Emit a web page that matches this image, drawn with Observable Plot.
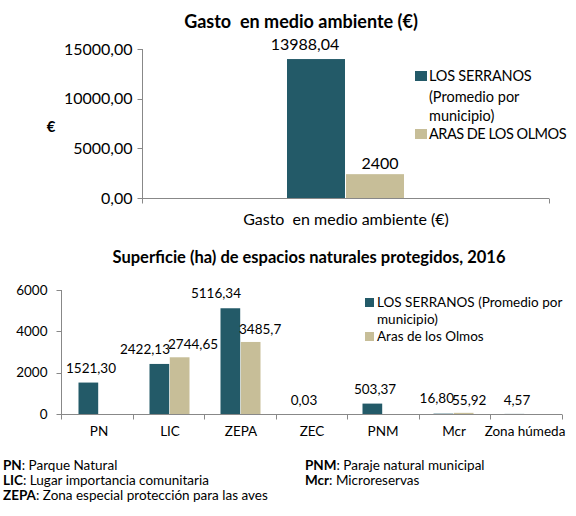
<!DOCTYPE html>
<html>
<head>
<meta charset="utf-8">
<script src="https://cdn.jsdelivr.net/npm/d3@7"></script>
<script src="https://cdn.jsdelivr.net/npm/@observablehq/plot@0.6"></script>
<style>
  html, body { margin: 0; padding: 0; background: #fff; }
  #wrap { position: relative; width: 576px; height: 516px; overflow: hidden;
          font-family: Lato, "Open Sans", sans-serif; color: #000; }
  #wrap svg { position: absolute; left: 0; }
  #wrap svg text { white-space: pre; }
  .t { position: absolute; white-space: pre; line-height: 1; transform: translateY(-50%); }
  .sw { position: absolute; }
  b { font-weight: 700; }
</style>
</head>
<body>
<div id="wrap"></div>
<script>
// ---------- data ----------
const gastoCategories = ["Gasto  en medio ambiente (€)"];
const gastoSerranos = [13988.04];
const gastoAras = [2400];
const gastoTicks = [0, 5000, 10000, 15000];

const espacioCategories = ["PN", "LIC", "ZEPA", "ZEC", "PNM", "Mcr", "Zona húmeda"];
const espacioSerranos = [1521.30, 2422.13, 5116.34, 0.03, 503.37, 16.80, 4.57];
const espacioAras = [null, 2744.65, 3485.7, null, null, 55.92, null];
const espacioTicks = [0, 2000, 4000, 6000];

const gastoLegend = ["LOS SERRANOS", "(Promedio por", "municipio)", "ARAS DE LOS OLMOS"];
const espacioLegend = ["LOS SERRANOS (Promedio por", "municipio)", "Aras de los Olmos"];

const captionLeft = [["PN", ": Parque Natural"], ["LIC", ": Lugar importancia comunitaria"], ["ZEPA", ": Zona especial protección para las aves"]];
const captionRight = [["PNM", ": Paraje natural municipal"], ["Mcr", ": Microreservas"]];

// ---------- styles ----------
const teal = "#235a68", beige = "#c7be98", axisGray = "#888888";
const FONT = "Lato, 'Open Sans', sans-serif";
const fmt2 = v => v.toFixed(2).replace(".", ",");
const fmtRaw = v => String(v).replace(".", ",");

const wrap = document.getElementById("wrap");

function decorate(svg, ticks) {
  const sx = svg.scale("x"), sy = svg.scale("y");
  const [xa, xb] = sx.range;
  const [yb, yt] = sy.range;
  const n = sx.domain.length;
  const g = d3.select(svg).append("g").attr("stroke", axisGray).attr("fill", "none").attr("stroke-width", 1);
  const px = v => Math.round(v) + 0.5;
  g.append("line").attr("x1", px(xa)).attr("x2", px(xa)).attr("y1", yt).attr("y2", px(yb));
  ticks.forEach(t => {
    const y = px(sy.apply(t));
    g.append("line").attr("x1", px(xa) - 5).attr("x2", px(xa)).attr("y1", y).attr("y2", y);
  });
  d3.range(n + 1).forEach(k => {
    const x = px(xa + k * (xb - xa) / n);
    g.append("line").attr("x1", x).attr("x2", x).attr("y1", px(yb)).attr("y2", px(yb) + 5);
  });
}

function addText(txt, x, y, size, bold, anchor, spacing) {
  const d = document.createElement("div");
  d.className = "t";
  d.textContent = txt;
  d.style.left = x + "px";
  d.style.top = y + "px";
  d.style.fontSize = size + "px";
  if (bold) d.style.fontWeight = "700";
  if (spacing) d.style.letterSpacing = spacing + "px";
  if (anchor === "middle") d.style.transform = "translate(-50%, -50%)";
  wrap.appendChild(d);
  return d;
}
function addSwatch(color, x, y, w, h) {
  const d = document.createElement("div");
  d.className = "sw";
  Object.assign(d.style, {left: x + "px", top: y + "px", width: w + "px", height: h + "px", background: color});
  wrap.appendChild(d);
}

// ---------- top chart ----------
const gastoRows = gastoCategories.map((c, i) => ({cat: c, serranos: gastoSerranos[i], aras: gastoAras[i]}));
const topPlot = Plot.plot({
  width: 576, height: 240,
  marginTop: 49, marginBottom: 42, marginLeft: 142, marginRight: 27,
  style: {fontFamily: FONT, fontSize: "16px", color: "#000", background: "transparent", overflow: "visible"},
  x: {type: "band", domain: gastoCategories, padding: 0, label: null},
  y: {domain: [0, 15000], label: null},
  marks: [
    Plot.ruleY([0], {stroke: axisGray}),
    Plot.barY(gastoRows, {x: "cat", y: "serranos", fill: teal, insetLeft: 145, insetRight: 204}),
    Plot.barY(gastoRows, {x: "cat", y: "aras", fill: beige, insetLeft: 204, insetRight: 145}),
    Plot.text(gastoRows, {x: "cat", y: "serranos", text: d => fmt2(d.serranos), dx: -41, dy: -15, lineAnchor: "middle", fontSize: 16, fill: "#000"}),
    Plot.text(gastoRows, {x: "cat", y: "aras", text: d => fmtRaw(d.aras), dx: 34, dy: -11, lineAnchor: "middle", fontSize: 16, fill: "#000"}),
    Plot.axisY({ticks: gastoTicks, tickFormat: fmt2, tickSize: 0, tickPadding: 10, fontSize: 16, label: null}),
    Plot.axisX({tickSize: 0, tickPadding: 15, fontSize: 16, label: null})
  ]
});
topPlot.style.top = "0px";
wrap.appendChild(topPlot);
decorate(topPlot, gastoTicks);

// ---------- bottom chart ----------
const espRows = espacioCategories.map((c, i) => ({cat: c, serranos: espacioSerranos[i], aras: espacioAras[i]}));
const bottomPlot = Plot.plot({
  width: 576, height: 200,
  marginTop: 50, marginBottom: 26, marginLeft: 61, marginRight: 14,
  style: {fontFamily: FONT, fontSize: "13.5px", color: "#000", background: "transparent", overflow: "visible"},
  x: {type: "band", domain: espacioCategories, padding: 0, label: null},
  y: {domain: [0, 6000], label: null},
  marks: [
    Plot.ruleY([0], {stroke: axisGray}),
    Plot.barY(espRows, {x: "cat", y: "serranos", fill: teal, insetLeft: 15.5, insetRight: 35.8}),
    Plot.barY(espRows.filter(d => d.aras != null), {x: "cat", y: "aras", fill: beige, insetLeft: 35.8, insetRight: 15.5}),
    Plot.text(espRows.filter(d => d.aras != null), {x: "cat", y: "serranos", text: d => fmt2(d.serranos), textAnchor: "end", dx: 0, dy: -15, lineAnchor: "middle", fontSize: 13.5, fill: "#000"}),
    Plot.text(espRows.filter(d => d.aras == null), {x: "cat", y: "serranos", text: d => fmt2(d.serranos), dx: -8, dy: -14, lineAnchor: "middle", fontSize: 13.5, fill: "#000"}),
    Plot.text(espRows.filter(d => d.aras != null), {x: "cat", y: "aras", text: d => fmtRaw(d.aras), textAnchor: "start", dx: -2, dy: -13, lineAnchor: "middle", fontSize: 13.5, fill: "#000"}),
    Plot.axisY({ticks: espacioTicks, tickFormat: d => String(d), tickSize: 0, tickPadding: 14, fontSize: 13.5, label: null}),
    Plot.axisX({tickSize: 0, tickPadding: 12, fontSize: 13.5, label: null})
  ]
});
bottomPlot.style.top = "240px";
wrap.appendChild(bottomPlot);
decorate(bottomPlot, espacioTicks);

// ---------- titles ----------
addText("Gasto  en medio ambiente (€)", 301, 21, 18, true, "middle");
addText("€", 51, 126, 15, true, "middle");
addText("Superficie (ha) de espacios naturales protegidos, 2016", 309, 257, 16.5, true, "middle");

// ---------- legends ----------
addSwatch(teal, 415, 71, 12, 10);
addText(gastoLegend[0], 429, 76, 14.5, false, null, -0.2);
addText(gastoLegend[1], 429, 97, 14.5);
addText(gastoLegend[2], 429, 116, 14.5);
addSwatch(beige, 415, 129, 12, 10);
addText(gastoLegend[3], 429, 134, 14.5, false, null, -0.5);

addSwatch(teal, 365, 298, 9, 9);
addText(espacioLegend[0], 377, 303, 13.5);
addText(espacioLegend[1], 377, 320, 13.5);
addSwatch(beige, 365, 332, 9, 9);
addText(espacioLegend[2], 377, 337, 13.5);

// ---------- caption ----------
const capY = [466, 481, 496];
captionLeft.forEach(([k, v], i) => {
  const d = addText("", 3, capY[i], 13.5);
  d.innerHTML = "<b>" + k + "</b>" + v;
});
captionRight.forEach(([k, v], i) => {
  const d = addText("", 305, capY[i], 13.5);
  d.innerHTML = "<b>" + k + "</b>" + v;
});
</script>
</body>
</html>
